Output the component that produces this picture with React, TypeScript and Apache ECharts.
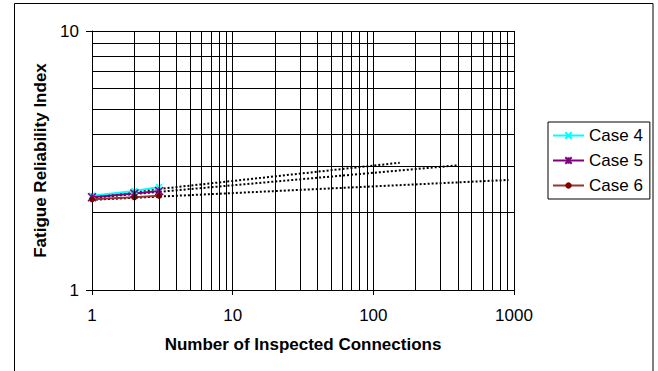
import React, { useEffect, useRef } from "react";
import * as echarts from "echarts";

// Data
const xValues = [1, 2, 3];
const case4 = [2.31, 2.41, 2.5];
const case5 = [2.28, 2.36, 2.41];
const case6 = [2.24, 2.28, 2.31];
// Power trendlines (straight on log-log): start and end points
const trend4: number[][] = [[1, 2.3], [154, 3.1]];
const trend5: number[][] = [[1, 2.27], [398, 3.03]];
const trend6: number[][] = [[1, 2.23], [914, 2.66]];
// Minor gridline positions
const xMinorGrid = [2, 3, 4, 5, 6, 7, 8, 9, 20, 30, 40, 50, 60, 70, 80, 90, 200, 300, 400, 500, 600, 700, 800, 900];
const yMinorGrid = [2, 3, 4, 5, 6, 7, 8, 9];
const seriesNames = ["Case 4", "Case 5", "Case 6"];

const FONT = "'Liberation Sans', Arial, sans-serif";

export default function App() {
  const ref = useRef<HTMLDivElement>(null);

  useEffect(() => {
    document.body.style.margin = "0";
    const chart = echarts.init(ref.current!, null, { renderer: "svg" });
    const pts = (ys: number[]) => xValues.map((x, i) => [x, ys[i]]);
    const trendStyle = {
      type: "line",
      symbol: "none",
      silent: true,
      z: 3,
      lineStyle: { color: "#000", width: 2, type: [2, 2] },
    };
    chart.setOption({
      animation: false,
      backgroundColor: "#fff",
      textStyle: { fontFamily: FONT },
      graphic: [
        {
          type: "rect",
          shape: { x: 14.5, y: 3.5, width: 638.5, height: 400 },
          style: { fill: "none", stroke: "#000", lineWidth: 1 },
          silent: true,
          z: -10,
        },
      ],
      grid: { left: 92, right: 144, top: 31, bottom: 81 },
      legend: {
        orient: "vertical",
        left: 548,
        top: 122,
        data: seriesNames,
        borderColor: "#000",
        borderWidth: 1,
        borderRadius: 0,
        padding: [5, 7, 5, 4],
        itemGap: 8,
        itemWidth: 31,
        itemHeight: 8,
        textStyle: { fontSize: 17, color: "#000", fontFamily: FONT },
      },
      xAxis: {
        type: "log",
        logBase: 10,
        min: 1,
        max: 1000,
        name: "Number of Inspected Connections",
        nameLocation: "middle",
        nameGap: 46,
        nameTextStyle: { fontSize: 17, fontWeight: "bold", color: "#000", fontFamily: FONT },
        axisLine: { show: true, lineStyle: { color: "#000", width: 1 } },
        axisTick: { show: true, length: 5, lineStyle: { color: "#000" } },
        axisLabel: {
          fontSize: 17,
          color: "#000",
          margin: 17,
          fontFamily: FONT,
          formatter: (v: number) => String(Math.round(v)),
        },
        splitLine: { show: true, lineStyle: { color: "#000", width: 1 } },
        minorTick: { show: false },
      },
      yAxis: {
        type: "log",
        logBase: 10,
        min: 1,
        max: 10,
        name: "Fatigue Reliability Index",
        nameLocation: "middle",
        nameGap: 42,
        nameTextStyle: { fontSize: 17, fontWeight: "bold", color: "#000", fontFamily: FONT },
        axisLine: { show: true, lineStyle: { color: "#000", width: 1 } },
        axisTick: { show: true, length: 6, lineStyle: { color: "#000" } },
        axisLabel: {
          fontSize: 17,
          color: "#000",
          margin: 13,
          fontFamily: FONT,
          formatter: (v: number) => String(Math.round(v)),
        },
        splitLine: { show: true, lineStyle: { color: "#000", width: 1 } },
      },
      series: [
        {
          name: "grid-helper",
          type: "line",
          data: [],
          z: 1,
          silent: true,
          markLine: {
            silent: true,
            symbol: ["none", "none"],
            label: { show: false },
            animation: false,
            lineStyle: { color: "#000", width: 1, type: "solid" },
            emphasis: { disabled: true },
            data: [
              ...xMinorGrid.map((v) => ({ xAxis: v })),
              ...yMinorGrid.map((v) => ({ yAxis: v })),
            ],
          },
        },
        { ...trendStyle, name: "Trend Case 4", data: trend4 },
        { ...trendStyle, name: "Trend Case 5", data: trend5 },
        { ...trendStyle, name: "Trend Case 6", data: trend6 },
        {
          name: seriesNames[0],
          type: "line",
          data: pts(case4),
          z: 4,
          symbol: "path://M0,0L10,10M10,0L0,10",
          symbolSize: 6,
          itemStyle: { color: "#00FFFF", borderColor: "#00FFFF", borderWidth: 1.5 },
          lineStyle: { color: "#00FFFF", width: 2 },
        },
        {
          name: seriesNames[1],
          type: "line",
          data: pts(case5),
          z: 4,
          symbol: "path://M0,0L10,10M10,0L0,10M5,0L5,10",
          symbolSize: 8,
          itemStyle: { color: "#800080", borderColor: "#800080", borderWidth: 1.5 },
          lineStyle: { color: "#800080", width: 2 },
        },
        {
          name: seriesNames[2],
          type: "line",
          data: pts(case6),
          z: 4,
          symbol: "circle",
          symbolSize: 6,
          itemStyle: { color: "#800000", borderColor: "#800000", borderWidth: 0 },
          lineStyle: { color: "#993333", width: 2 },
        },
      ],
    });
    return () => chart.dispose();
  }, []);

  return <div ref={ref} style={{ width: 658, height: 371 }} />;
}
